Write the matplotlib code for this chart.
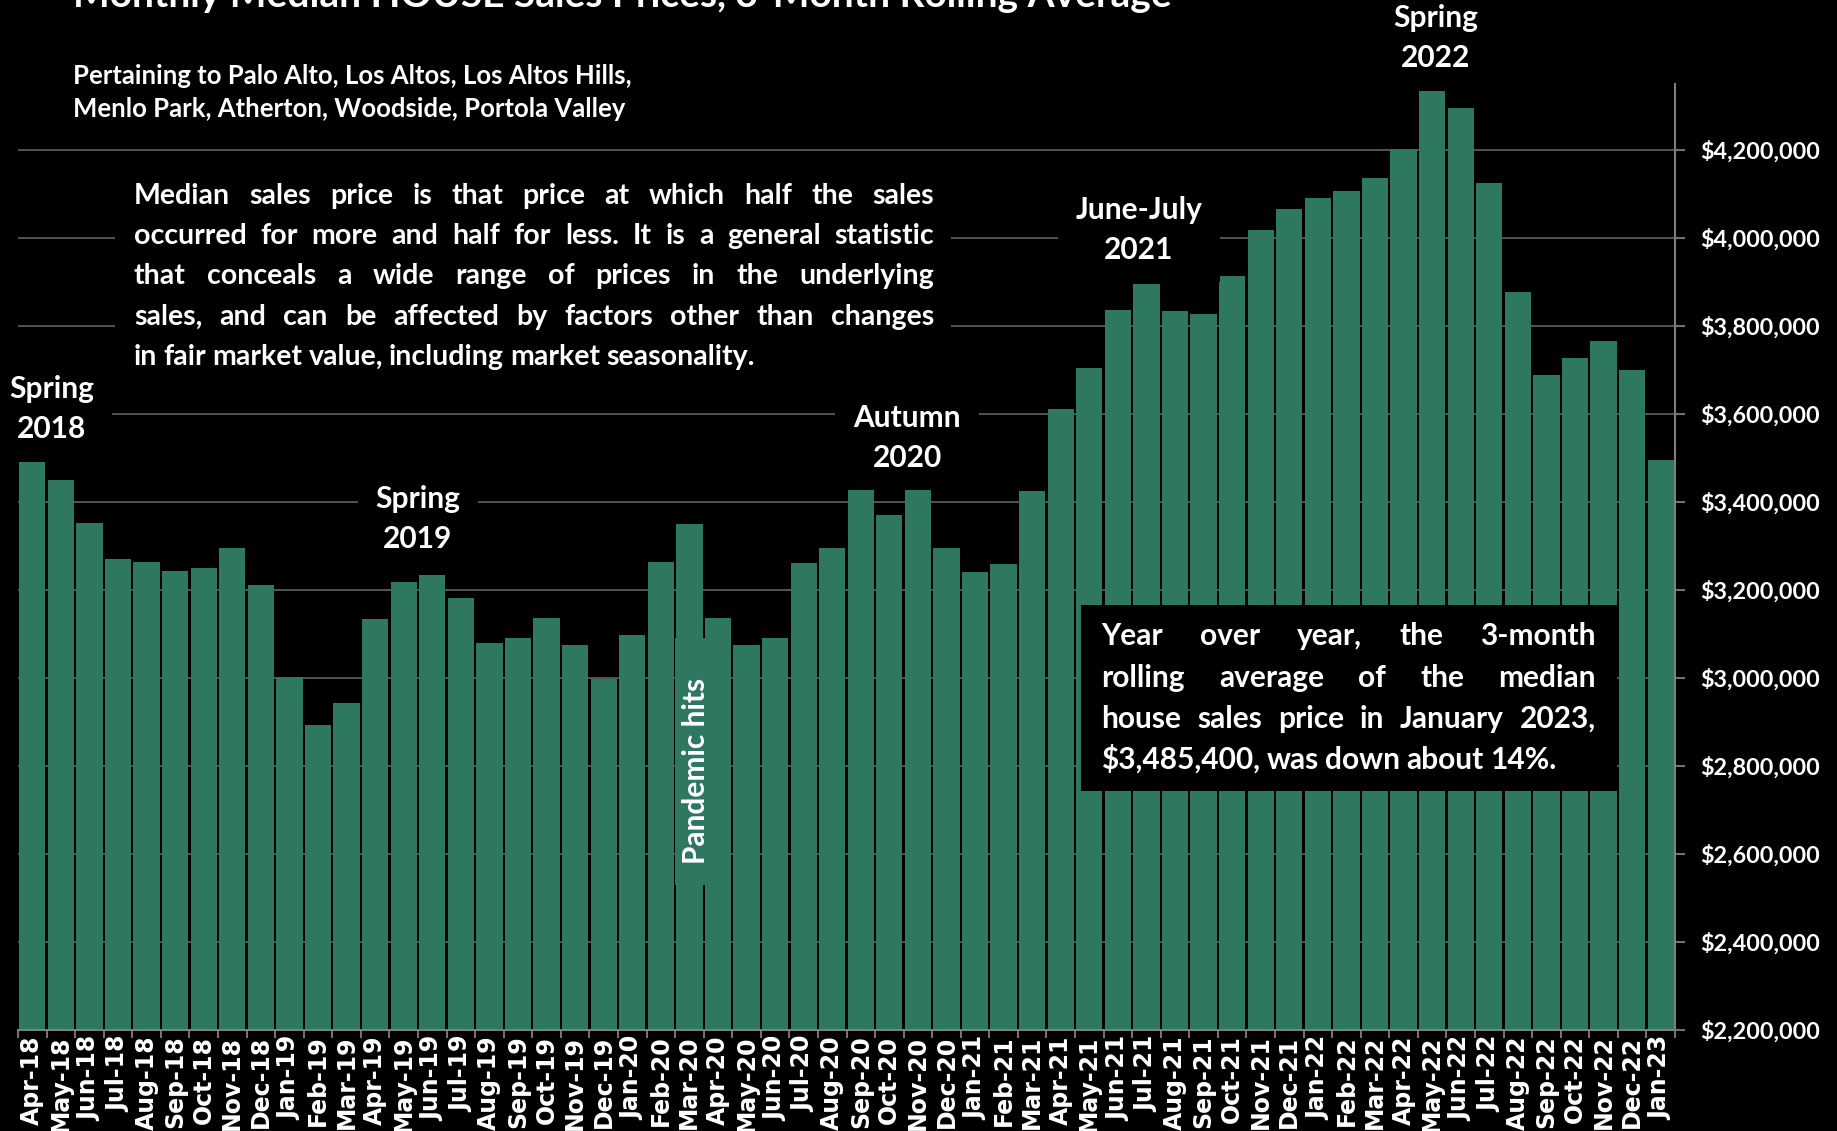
import matplotlib
matplotlib.use('Agg')
import matplotlib.pyplot as plt
from matplotlib.patches import Rectangle
from matplotlib.ticker import FuncFormatter
import numpy as np

plt.rcParams['font.family'] = ['Lato', 'DejaVu Sans']
plt.rcParams['font.weight'] = 'bold'

months = ['Apr-18', 'May-18', 'Jun-18', 'Jul-18', 'Aug-18', 'Sep-18', 'Oct-18', 'Nov-18', 'Dec-18',
          'Jan-19', 'Feb-19', 'Mar-19', 'Apr-19', 'May-19', 'Jun-19', 'Jul-19', 'Aug-19', 'Sep-19',
          'Oct-19', 'Nov-19', 'Dec-19', 'Jan-20', 'Feb-20', 'Mar-20', 'Apr-20', 'May-20', 'Jun-20',
          'Jul-20', 'Aug-20', 'Sep-20', 'Oct-20', 'Nov-20', 'Dec-20', 'Jan-21', 'Feb-21', 'Mar-21',
          'Apr-21', 'May-21', 'Jun-21', 'Jul-21', 'Aug-21', 'Sep-21', 'Oct-21', 'Nov-21', 'Dec-21',
          'Jan-22', 'Feb-22', 'Mar-22', 'Apr-22', 'May-22', 'Jun-22', 'Jul-22', 'Aug-22', 'Sep-22',
          'Oct-22', 'Nov-22', 'Dec-22', 'Jan-23']

prices = [3492000, 3451000, 3352000, 3270000, 3263000, 3243000, 3250000, 3296000, 3212000,
          3003000, 2893000, 2943000, 3133000, 3218000, 3233000, 3181000, 3080000, 3090000,
          3136000, 3075000, 2997000, 3097000, 3264000, 3349000, 3136000, 3074000, 3090000,
          3261000, 3295000, 3427000, 3370000, 3428000, 3295000, 3241000, 3258000, 3425000,
          3612000, 3704000, 3837000, 3896000, 3834000, 3827000, 3914000, 4018000, 4067000,
          4090000, 4106000, 4136000, 4202000, 4335000, 4296000, 4126000, 3877000, 3689000,
          3727000, 3765000, 3700000, 3495000]

y_ticks = np.arange(2200000, 4200001, 200000)

title = 'Monthly Median HOUSE Sales Prices, 3-Month Rolling Average'
subtitle = ['Pertaining to Palo Alto, Los Altos, Los Altos Hills,',
            'Menlo Park, Atherton, Woodside, Portola Valley']
note = ['Median sales price is that price at which half the sales',
        'occurred for more and half for less. It is a general statistic',
        'that conceals a wide range of prices in the underlying',
        'sales, and can be affected by factors other than changes',
        'in fair market value, including market seasonality.']
yoy = ['Year over year, the 3-month',
       'rolling average of the median',
       'house sales price in January 2023,',
       '$3,485,400, was down about 14%.']

GREEN = '#2e7862'
W, H = 1837, 1131

fig = plt.figure(figsize=(W / 100, H / 100), dpi=100, facecolor='black')
ax = fig.add_axes([18 / W, 1 - 1030 / H, (1675 - 18) / W, (1030 - 84) / H])
ax.set_facecolor('black')

x = np.arange(len(months))
ax.bar(x, prices, width=0.92, color=GREEN, zorder=2)
ax.set_xlim(-0.5, len(months) - 0.5)
ax.set_ylim(2200000, 4350000)

ax.set_xticks(x)
ax.set_xticklabels(months, rotation=90, fontsize=17, color='white',
                   fontfamily='DejaVu Sans', fontweight='bold')
ax.set_xticks(np.arange(-0.5, len(months)), minor=True)
ax.tick_params(axis='x', which='major', length=0, pad=4)
ax.tick_params(axis='x', which='minor', length=6, width=1.3, color='#7f7f7f')

ax.yaxis.tick_right()
ax.set_yticks(y_ticks)
ax.yaxis.set_major_formatter(FuncFormatter(lambda v, p: f'${v:,.0f}'))
ax.tick_params(axis='y', length=7, width=1.3, color='#7f7f7f', pad=11,
               labelsize=16.8, labelcolor='white')
ax.yaxis.grid(True, color='#5a5a5a', linewidth=1.3, zorder=0)
ax.set_axisbelow(True)

for s in ['left', 'top']:
    ax.spines[s].set_visible(False)
for s in ['right', 'bottom']:
    ax.spines[s].set_color('#7f7f7f')
    ax.spines[s].set_linewidth(1.5)


def ftext(px, py, s, **kw):
    return fig.text(px / W, 1 - py / H, s, color='white', fontweight='bold', **kw)


def box(x0, y0, x1, y1, color):
    fig.add_artist(Rectangle((x0 / W, 1 - y1 / H), (x1 - x0) / W, (y1 - y0) / H,
                             transform=fig.transFigure, facecolor=color,
                             edgecolor='none', zorder=2))


renderer = fig.canvas.get_renderer()


def justify(lines, x0, x1, baselines, size):
    for i, (line, yb) in enumerate(zip(lines, baselines)):
        words = line.split()
        texts = [ftext(0, yb, w, fontsize=size, va='baseline', ha='left') for w in words]
        widths = [t.get_window_extent(renderer).width for t in texts]
        if i == len(lines) - 1:
            gap = size * 0.3
        else:
            gap = (x1 - x0 - sum(widths)) / (len(words) - 1)
        px = x0
        for t, w in zip(texts, widths):
            t.set_x(px / W)
            px += w + gap


ftext(73, 7, title, fontsize=28, va='baseline', ha='left')
ftext(73, 76, subtitle[0], fontsize=18.5, va='center', ha='left')
ftext(73, 109, subtitle[1], fontsize=18.5, va='center', ha='left')

box(115, 170, 951, 395, 'black')
justify(note, 134, 934, [204, 244, 284, 325, 365], 20.5)

label_box = dict(facecolor='black', edgecolor='none', boxstyle='square,pad=0.6')
for lx, ly, s in [(52, 409, 'Spring\n2018'), (418, 519, 'Spring\n2019'),
                  (907, 438, 'Autumn\n2020'), (1139, 230, 'June-July\n2021'),
                  (1436, 38, 'Spring\n2022')]:
    ftext(lx, ly, s, fontsize=21.5, ha='center', va='center', linespacing=1.5, bbox=label_box)

box(675, 638, 717, 885, GREEN)
ftext(696, 771, 'Pandemic hits', fontsize=21.5, rotation=90, ha='center', va='center')

box(1081, 605, 1617, 791, 'black')
justify(yoy, 1101, 1596, [645, 687, 728, 769], 21.5)

fig.savefig('out.png', dpi=100, facecolor='black')
